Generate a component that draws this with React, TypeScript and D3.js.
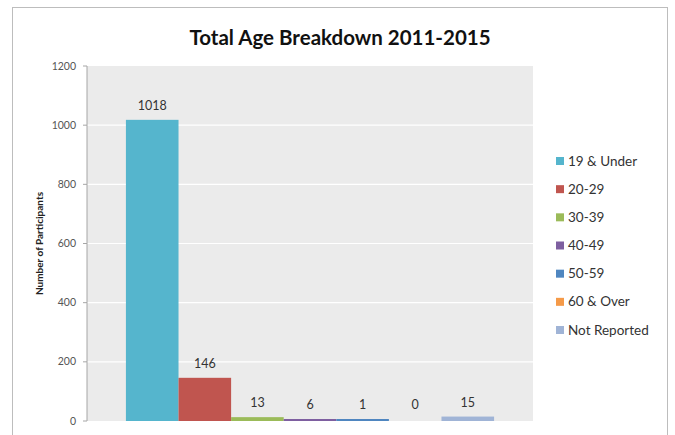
import React from "react";
import * as d3 from "d3";

const categories = ["19 & Under", "20-29", "30-39", "40-49", "50-59", "60 & Over", "Not Reported"];
const values = [1018, 146, 13, 6, 1, 0, 15];
const colors = ["#55b5cd", "#c0554f", "#9bbb59", "#7e5fa0", "#4f86c0", "#f59a48", "#a0b4d6"];
const yTicks = [0, 200, 400, 600, 800, 1000, 1200];

const W = 675;
const H = 435;
const plot = { left: 87, right: 533, top: 66, bottom: 421 };
const FONT = "Lato, 'Open Sans', sans-serif";

export default function App() {
  const y = d3.scaleLinear().domain([0, 1200]).range([plot.bottom, plot.top]);
  const x = d3
    .scaleBand<string>()
    .domain(categories)
    .range([plot.left, plot.right])
    .paddingInner(0)
    .paddingOuter(0.74);

  const legendY = d3.scalePoint<string>().domain(categories).range([161, 330]);

  return (
    <svg
      width={W}
      height={H}
      style={{ position: "absolute", left: 0, top: 0, background: "#fff" }}
      fontFamily={FONT}
    >
      <rect x={0} y={0} width={W} height={H} fill="#fff" />
      {/* outer chart border */}
      <rect x={12.5} y={7.5} width={655} height={440} fill="none" stroke="#bdbdbd" strokeWidth={1} />
      {/* title */}
      <text x={340} y={45} textAnchor="middle" fontSize={20.5} fontWeight={700} fill="#111">
        Total Age Breakdown 2011-2015
      </text>
      {/* plot background */}
      <rect
        x={plot.left}
        y={plot.top}
        width={plot.right - plot.left}
        height={plot.bottom - plot.top}
        fill="#ebebeb"
      />
      {/* gridlines */}
      {yTicks.slice(1, -1).map((t) => (
        <line
          key={"g" + t}
          x1={plot.left}
          x2={plot.right}
          y1={y(t)}
          y2={y(t)}
          stroke="#ffffff"
          strokeWidth={1.2}
        />
      ))}
      {/* bars */}
      {categories.map((c, i) => {
        const h = plot.bottom - y(values[i]);
        return (
          <rect
            key={c}
            x={x(c)}
            y={y(values[i])}
            width={x.bandwidth()}
            height={Math.max(h, values[i] > 0 ? 2 : 0)}
            fill={colors[i]}
            transform={values[i] > 0 && h < 2 ? `translate(0,${-(2 - h)})` : undefined}
          />
        );
      })}
      {/* value labels */}
      {categories.map((c, i) => (
        <text
          key={"v" + c}
          x={(x(c) as number) + x.bandwidth() / 2}
          y={Math.min(y(values[i]), plot.bottom - 2) - 10}
          textAnchor="middle"
          fontSize={12.5}
          fill="#333"
        >
          {values[i]}
        </text>
      ))}
      {/* y axis */}
      <line x1={plot.left} x2={plot.left} y1={plot.top} y2={plot.bottom} stroke="#a6a6a6" strokeWidth={1} />
      {yTicks.map((t) => (
        <g key={"t" + t}>
          <line x1={plot.left - 4} x2={plot.left} y1={y(t)} y2={y(t)} stroke="#a6a6a6" strokeWidth={1} />
          <text x={plot.left - 11} y={y(t) + 3.5} textAnchor="end" fontSize={10.5} fill="#555">
            {t}
          </text>
        </g>
      ))}
      <text
        transform={`translate(43,${(plot.top + plot.bottom) / 2}) rotate(-90)`}
        textAnchor="middle"
        fontSize={10}
        fontWeight={700}
        fill="#222"
      >
        Number of Participants
      </text>
      {/* legend */}
      {categories.map((c, i) => (
        <g key={"l" + c} transform={`translate(556,${legendY(c)})`}>
          <rect x={0} y={-4} width={8} height={8} fill={colors[i]} />
          <text x={12} y={4.5} fontSize={13.5} fill="#333">
            {c}
          </text>
        </g>
      ))}
    </svg>
  );
}
